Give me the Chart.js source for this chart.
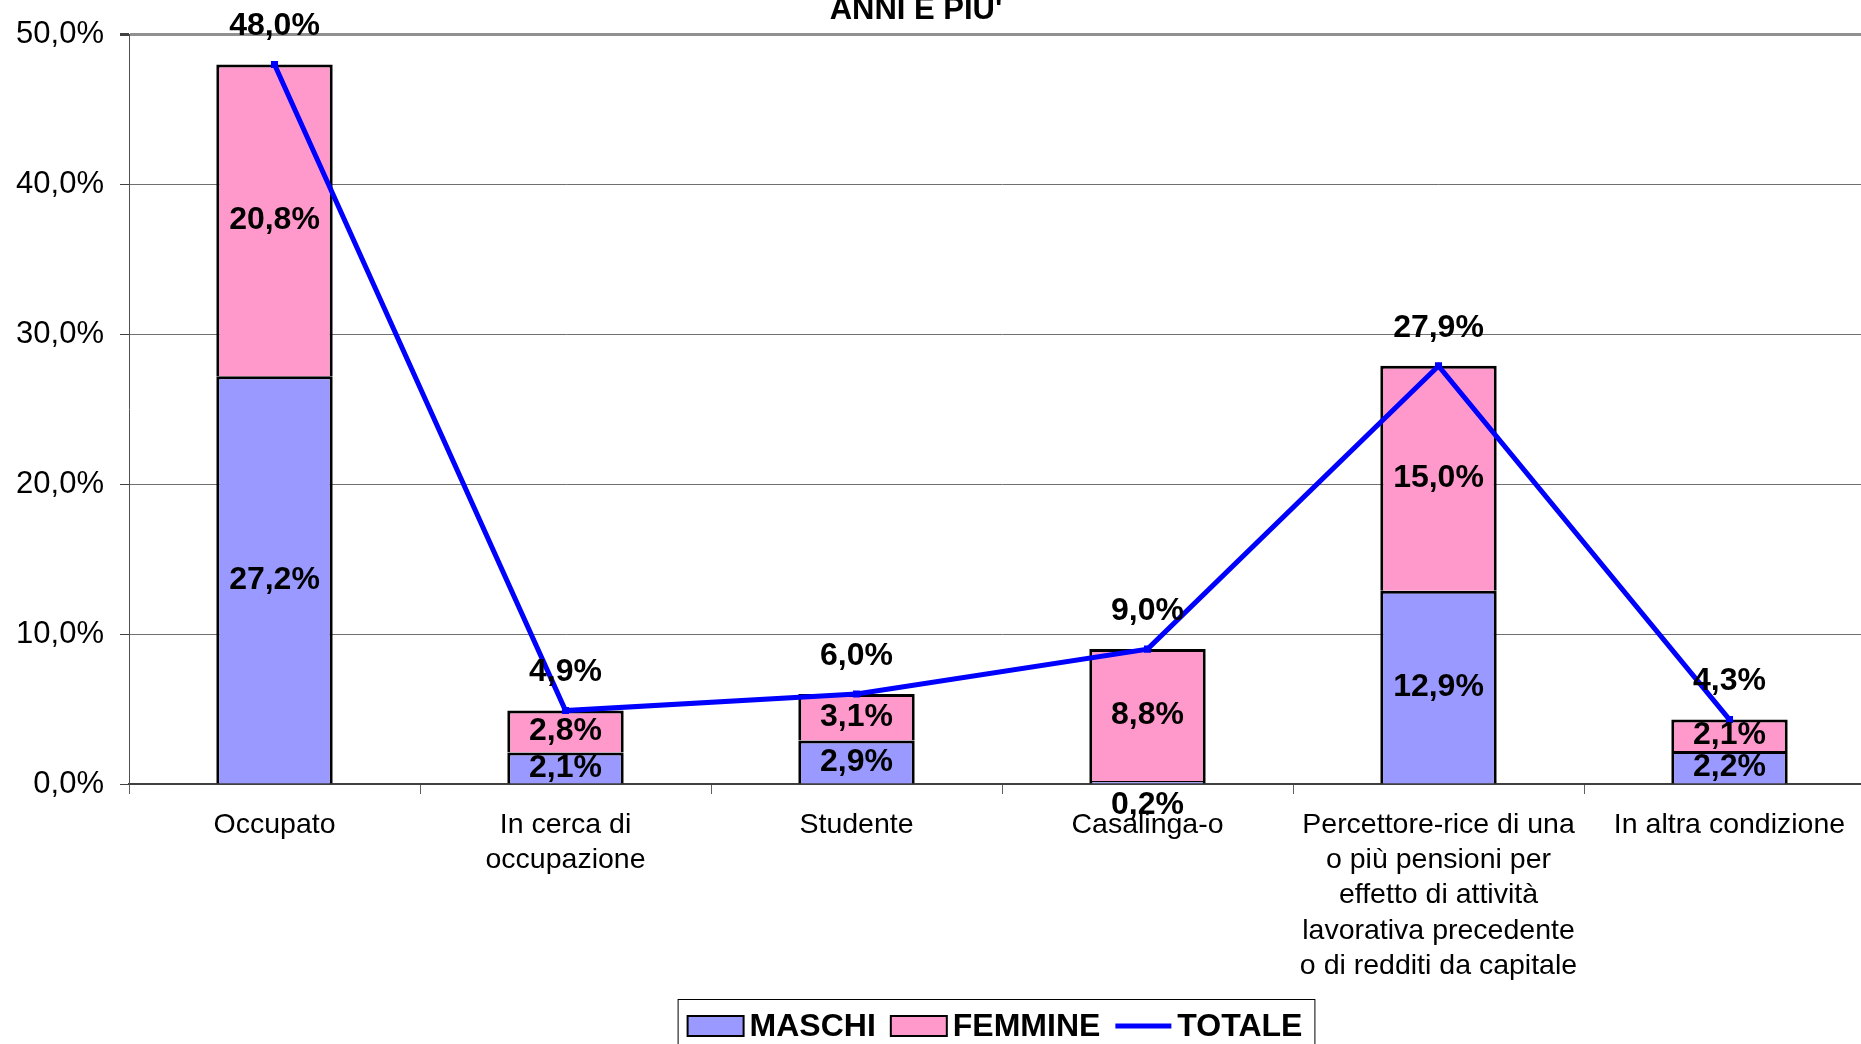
<!DOCTYPE html>
<html>
<head>
<meta charset="utf-8">
<script src="https://cdn.jsdelivr.net/npm/chart.js@4.4.1/dist/chart.umd.min.js"></script>
<style>
  html, body { margin: 0; padding: 0; overflow: hidden; background: #fff; }
  canvas { display: block; }
</style>
</head>
<body>
<canvas id="chart" width="1880" height="1044"></canvas>
<script>
// categorie e valori (%)
const categories = [
    'Occupato',
    ['In cerca di', 'occupazione'],
    'Studente',
    'Casalinga-o',
    ['Percettore-rice di una', 'o più pensioni per', 'effetto di attività', 'lavorativa precedente', 'o di redditi da capitale'],
    'In altra condizione'
];
const maschi = [27.2, 2.1, 2.9, 0.2, 12.9, 2.2];
const femmine = [20.8, 2.8, 3.1, 8.8, 15.0, 2.1];
const totale = [48.0, 4.9, 6.0, 9.0, 27.9, 4.3];
const titolo = "ANNI E PIU'";

const FONT = '"Liberation Sans", Arial, sans-serif';
const fmt = v => v.toFixed(1).replace('.', ',') + '%';

// titolo (tagliato in alto come nell'originale)
const titlePlugin = {
    id: 'titolo',
    afterDraw(chart) {
        const ctx = chart.ctx;
        ctx.save();
        ctx.font = 'bold 31px ' + FONT;
        ctx.fillStyle = '#000';
        ctx.textAlign = 'center';
        ctx.textBaseline = 'alphabetic';
        ctx.fillText(titolo, 916, 19);
        ctx.restore();
    }
};

// etichette dei valori
const labelPlugin = {
    id: 'etichette',
    afterDatasetsDraw(chart) {
        const ctx = chart.ctx;
        ctx.save();
        ctx.font = 'bold 32px ' + FONT;
        ctx.fillStyle = '#000';
        ctx.textAlign = 'center';
        ctx.textBaseline = 'middle';
        [0, 1].forEach(i => {
            const ds = chart.data.datasets[i];
            chart.getDatasetMeta(i).data.forEach((bar, j) => {
                const p = bar.getProps(['x', 'y', 'base'], true);
                let cy = (p.y + p.base) / 2;
                if (p.base - p.y < 24) cy = p.base + 22;
                ctx.fillText(fmt(ds.data[j]), p.x, cy);
            });
        });
        const line = chart.data.datasets[2];
        chart.getDatasetMeta(2).data.forEach((pt, j) => {
            ctx.fillText(fmt(line.data[j]), pt.x, pt.y - 38);
        });
        ctx.restore();
    }
};

// legenda con riquadro
const legendPlugin = {
    id: 'legenda',
    afterDraw(chart) {
        const ctx = chart.ctx;
        const ds = chart.data.datasets;
        ctx.save();
        ctx.font = 'bold 32px ' + FONT;
        const sw = 56, gap = 6, sep = 15;
        let total = 0;
        ds.forEach((d, i) => {
            total += sw + gap + ctx.measureText(d.label).width + (i < ds.length - 1 ? sep : 0);
        });
        const cx = 995;
        const boxL = cx - total / 2 - 10, boxR = cx + total / 2 + 12;
        const top = 999, cy = 1026;
        ctx.strokeStyle = '#000';
        ctx.lineWidth = 1;
        ctx.strokeRect(boxL + 0.5, top + 0.5, boxR - boxL, 80);
        let x = cx - total / 2;
        ds.forEach((d, i) => {
            if (d.type === 'line') {
                ctx.strokeStyle = d.borderColor;
                ctx.lineWidth = 5;
                ctx.beginPath();
                ctx.moveTo(x, cy);
                ctx.lineTo(x + sw, cy);
                ctx.stroke();
            } else {
                ctx.fillStyle = d.backgroundColor;
                ctx.fillRect(x, cy - 10, sw, 20);
                ctx.strokeStyle = '#000';
                ctx.lineWidth = 2;
                ctx.strokeRect(x, cy - 10, sw, 20);
            }
            x += sw + gap;
            ctx.fillStyle = '#000';
            ctx.textAlign = 'left';
            ctx.textBaseline = 'middle';
            ctx.fillText(d.label, x, cy + 1);
            x += ctx.measureText(d.label).width + sep;
        });
        ctx.restore();
    }
};

const barBorder = { top: 3, bottom: 0, left: 3, right: 3 };

const ctx = document.getElementById('chart').getContext('2d');
new Chart(ctx, {
    data: {
        labels: categories,
        datasets: [{
            type: 'bar',
            label: 'MASCHI',
            data: maschi,
            backgroundColor: '#9999FF',
            borderColor: '#000',
            borderWidth: barBorder,
            borderSkipped: false,
            stack: 'sesso',
            order: 1
        }, {
            type: 'bar',
            label: 'FEMMINE',
            data: femmine,
            backgroundColor: '#FF99CC',
            borderColor: '#000',
            borderWidth: barBorder,
            borderSkipped: false,
            stack: 'sesso',
            order: 1
        }, {
            type: 'line',
            label: 'TOTALE',
            data: totale,
            borderColor: '#0000FF',
            backgroundColor: '#0000FF',
            borderWidth: 5,
            pointStyle: 'rect',
            pointRadius: 5,
            pointBorderWidth: 0,
            pointBackgroundColor: '#0000FF',
            tension: 0,
            stack: 'tot',
            order: 0
        }]
    },
    options: {
        responsive: false,
        animation: false,
        devicePixelRatio: 1,
        layout: { padding: { top: 33, right: 5, left: 0, bottom: 0 } },
        datasets: { bar: { categoryPercentage: 1, barPercentage: 0.4 } },
        plugins: {
            legend: { display: false },
            title: { display: false },
            tooltip: { enabled: false }
        },
        scales: {
            x: {
                stacked: true,
                offset: true,
                grid: {
                    offset: true,
                    drawOnChartArea: false,
                    drawTicks: true,
                    tickLength: 10,
                    color: '#606060'
                },
                border: { color: '#404040', width: 2 },
                ticks: {
                    color: '#000',
                    font: { family: FONT, size: 28.5, lineHeight: 1.24 },
                    padding: 13,
                    maxRotation: 0,
                    autoSkip: false
                },
                afterFit(scale) { scale.height = 260; }
            },
            y: {
                stacked: true,
                min: 0,
                max: 50,
                grid: {
                    color: c => c.tick && c.tick.value === 50 ? '#909090' : '#707070',
                    lineWidth: c => c.tick && c.tick.value === 50 ? 3 : 1,
                    tickLength: 9,
                    tickColor: '#404040'
                },
                border: { color: '#505050', width: 1 },
                ticks: {
                    stepSize: 10,
                    color: '#000',
                    font: { family: FONT, size: 31 },
                    padding: 16,
                    callback: v => fmt(v)
                },
                afterFit(scale) { scale.width = 129; }
            }
        }
    },
    plugins: [titlePlugin, labelPlugin, legendPlugin]
});
</script>
</body>
</html>
